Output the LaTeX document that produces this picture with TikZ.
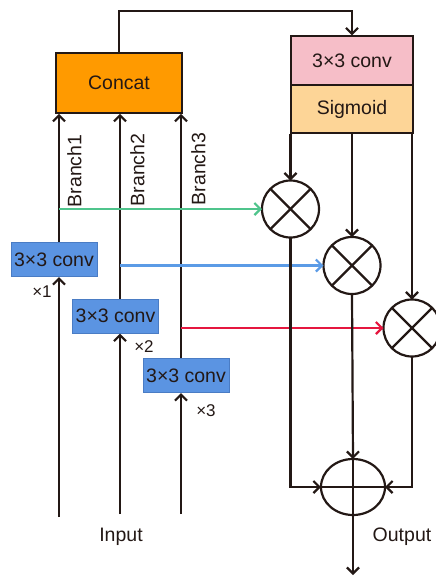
\documentclass[tikz,border=0pt]{standalone}
\usepackage{fontspec}
\setmainfont{Liberation Sans}
\usetikzlibrary{arrows.meta,shapes.geometric}
\definecolor{ink}{HTML}{231815}
\definecolor{concatfill}{HTML}{FF9A00}
\definecolor{convfill}{HTML}{F6BEC8}
\definecolor{sigfill}{HTML}{FDD597}
\definecolor{bluefill}{HTML}{5B94E2}
\definecolor{blueedge}{HTML}{4A7CC4}
\definecolor{gline}{HTML}{4FC48C}
\definecolor{bline}{HTML}{5B9BE6}
\definecolor{rline}{HTML}{E5173F}
\tikzset{
  lbl/.style={font=\fontsize{19.5}{22}\selectfont, text=ink},
  small/.style={font=\fontsize{17}{20}\selectfont, text=ink},
  arr/.style={draw=ink, line width=2.2pt, -{Straight Barb[length=6pt,width=12pt]}},
  plain/.style={draw=ink, line width=2.2pt},
  tip/.style={-{Straight Barb[length=6pt,width=12pt]}},
  concatbox/.style={draw=ink, line width=1.6pt, fill=concatfill, minimum width=126pt, minimum height=60pt, inner sep=0pt, lbl},
  rightbox/.style={draw=ink, line width=1.6pt, minimum width=122pt, minimum height=48.5pt, inner sep=0pt, lbl},
  convbox/.style={draw=blueedge, line width=1pt, fill=bluefill, minimum width=86pt, minimum height=34pt, inner sep=0pt, lbl},
  mult/.style={circle, draw=ink, line width=2.2pt, minimum size=57pt, inner sep=0pt, outer sep=0pt},
  branch/.style={lbl, rotate=90, anchor=north, inner sep=0pt},
}
\begin{document}
\begin{tikzpicture}[x=1pt, y=-1pt]
\useasboundingbox (0,0) rectangle (436,579);

% blocks
\node[concatbox] (concat) at (119,83) {Concat};
\node[rightbox, fill=convfill] (attconv) at (352,60.5) {3×3 conv};
\node[rightbox, fill=sigfill] (sig) at (352,109) {Sigmoid};

\node[convbox] (b1) at (54,259.5) {3×3 conv};
\node[convbox] (b2) at (115.5,316) {3×3 conv};
\node[convbox] (b3) at (186,375.5) {3×3 conv};

% multiplication and sum nodes
\node[mult] (m1) at (290.5,209) {};
\node[mult] (m2) at (352,265.5) {};
\node[mult] (m3) at (412,328) {};
\foreach \m in {m1,m2,m3}{
  \draw[plain] (\m.north east) -- (\m.south west);
  \draw[plain] (\m.north west) -- (\m.south east);
}
\node[ellipse, draw=ink, line width=2.2pt, minimum width=64pt, minimum height=56pt, inner sep=0pt, outer sep=0pt] (sum) at (353,487) {};
\draw[plain] (sum.north) -- (sum.south);
\draw[plain] (sum.west) -- (sum.east);

% input ends and output end
\coordinate (in1) at (59,517);
\coordinate (in2) at (120,514);
\coordinate (in3) at (181,514);
\coordinate (out) at (353,575);

% branches
\draw[arr] (in1) -- (in1 |- b1.south);
\draw[arr] (b1.north -| in1) -- (in1 |- concat.south);
\draw[arr] (in2) -- (in2 |- b2.south);
\draw[arr] (b2.north -| in2) -- (in2 |- concat.south);
\draw[arr] (in3) -- (in3 |- b3.south);
\draw[arr] (b3.north -| in3) -- (in3 |- concat.south);

\node[branch] at (67,171) {Branch1};
\node[branch] at (130,170) {Branch2};
\node[branch] at (191,169) {Branch3};

\node[small] at (42,292) {×1};
\node[small] at (144,347) {×2};
\node[small] at (206,411) {×3};

% concat to attention
\draw[arr] (concat.north) -- ++(0,-41) -| (attconv.north);

% coloured feature paths
\draw[draw=gline, line width=2.2pt, tip] (m1.west -| in1) -- (m1.west);
\draw[draw=bline, line width=2.2pt, tip] (m2.west -| in2) -- (m2.west);
\draw[draw=rline, line width=2.2pt, tip] (m3.west -| in3) -- (m3.west);

% attention weights into products
\draw[arr] (m1.north |- sig.south) -- (m1.north);
\draw[arr] (m2.north |- sig.south) -- (m2.north);
\draw[arr] (m3.north |- sig.south) -- (m3.north);

% products into the sum
\draw[arr] (m1.south) |- (sum.west);
\draw[arr] (m2.south) -- (sum.north);
\draw[arr] (m3.south) |- (sum.east);
\draw[arr] (sum.south) -- (out);

\node[lbl] at (121,537) {Input};
\node[lbl] at (402,537) {Output};
\end{tikzpicture}
\end{document}
